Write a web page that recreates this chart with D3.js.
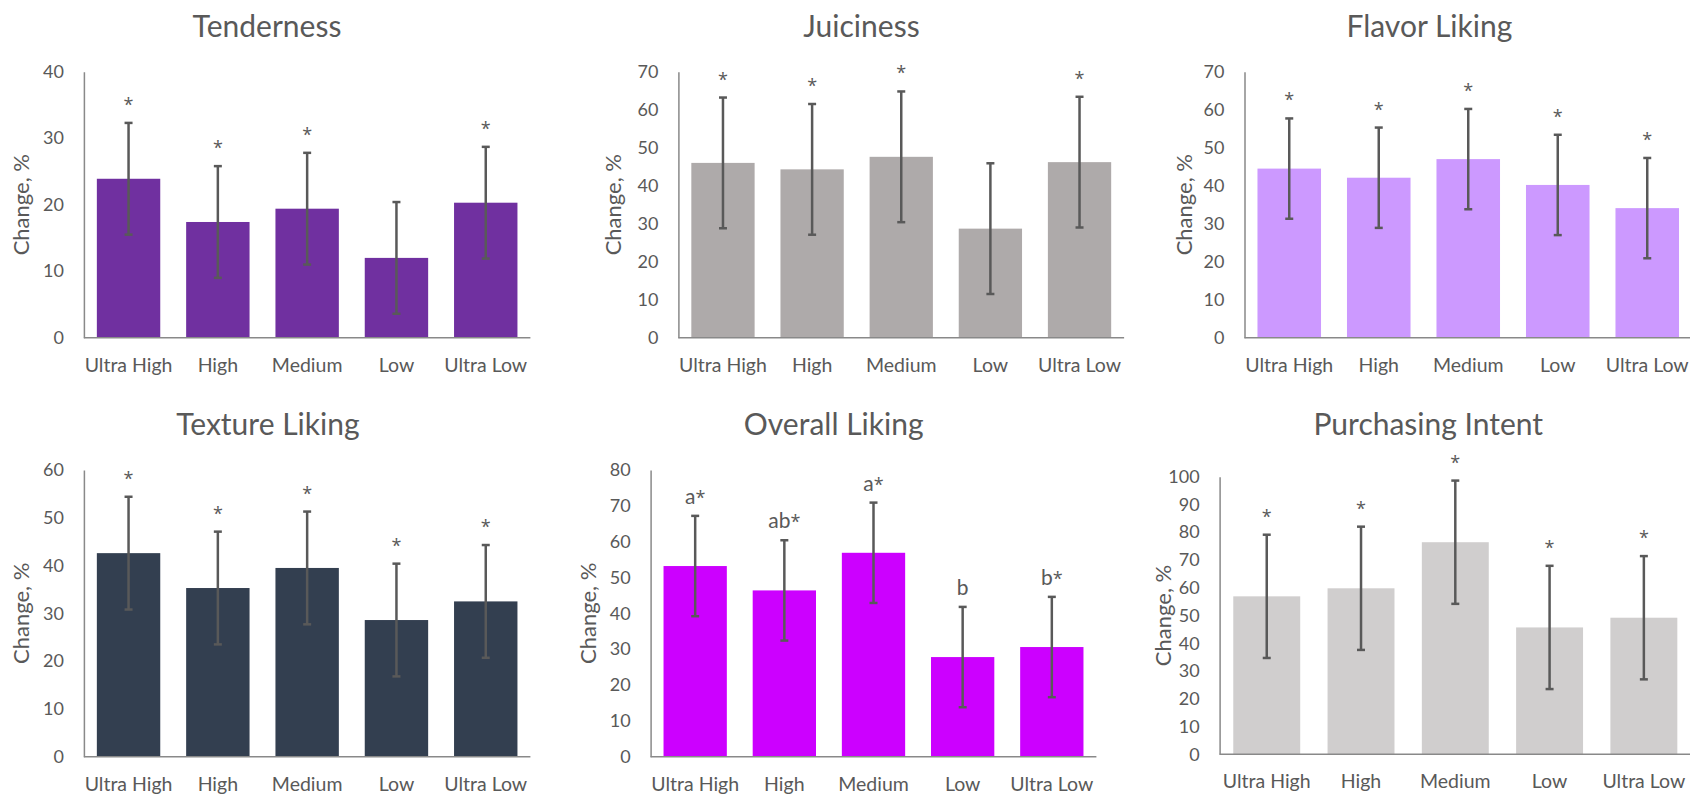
<!DOCTYPE html>
<html>
<head>
<meta charset="utf-8">
<script src="https://cdn.jsdelivr.net/npm/d3@7"></script>
<style>
  body { margin: 0; background: #fff; overflow: hidden; }
  svg { display: block; }
</style>
</head>
<body>
<div id="chart"></div>
<script>
// Categories shared by all six panels
const categories = ["Ultra High", "High", "Medium", "Low", "Ultra Low"];

// Tenderness
const tenderness = [23.9, 17.4, 19.4, 12.0, 20.3];
const tendernessErr = [8.4, 8.4, 8.4, 8.4, 8.4];
const tendernessSig = ["*", "*", "*", "", "*"];

// Juiciness
const juiciness = [46.0, 44.3, 47.6, 28.7, 46.2];
const juicinessErr = [17.2, 17.2, 17.2, 17.2, 17.2];
const juicinessSig = ["*", "*", "*", "", "*"];

// Flavor liking
const flavor = [44.5, 42.1, 47.0, 40.2, 34.1];
const flavorErr = [13.2, 13.2, 13.2, 13.2, 13.2];
const flavorSig = ["*", "*", "*", "*", "*"];

// Texture liking
const texture = [42.6, 35.3, 39.5, 28.6, 32.5];
const textureErr = [11.8, 11.8, 11.8, 11.8, 11.8];
const textureSig = ["*", "*", "*", "*", "*"];

// Overall liking
const overall = [53.2, 46.4, 56.9, 27.8, 30.6];
const overallErr = [14.0, 14.0, 14.0, 14.0, 14.0];
const overallSig = ["a*", "ab*", "a*", "b", "b*"];

// Purchasing intent
const purchase = [56.9, 59.8, 76.4, 45.7, 49.2];
const purchaseErr = [22.2, 22.2, 22.2, 22.2, 22.2];
const purchaseSig = ["*", "*", "*", "*", "*"];

// Colours and fonts
const textColor = "#595959";
const axisColor = "#898989";
const errColor = "#595959";
const font = "Lato, 'Open Sans', sans-serif";
const starFont = "'Open Sans', Lato, sans-serif";

// Panel layout (plot area in page pixels)
const panels = [
    { title: "Tenderness", values: tenderness, err: tendernessErr, sig: tendernessSig, color: "#7030A0",
      yMax: 40, left: 83.9, top: 71.7, right: 530.4, bottom: 337.7, axisRight: 530.4,
      titleX: 267, titleY: 36.7, labelOffset: 62.5 },
    { title: "Juiciness", values: juiciness, err: juicinessErr, sig: juicinessSig, color: "#AEAAAA",
      yMax: 70, left: 678.4, top: 71.7, right: 1124.1, bottom: 337.7, axisRight: 1124.1,
      titleX: 861.5, titleY: 36.7, labelOffset: 64.8 },
    { title: "Flavor Liking", values: flavor, err: flavorErr, sig: flavorSig, color: "#CC99FF",
      yMax: 70, left: 1244.5, top: 71.7, right: 1692, bottom: 337.7, axisRight: 1700,
      titleX: 1429.4, titleY: 36.7, labelOffset: 60 },
    { title: "Texture Liking", values: texture, err: textureErr, sig: textureSig, color: "#333F50",
      yMax: 60, left: 83.9, top: 470, right: 530.4, bottom: 756.7, axisRight: 530.4,
      titleX: 267.9, titleY: 435, labelOffset: 62.5 },
    { title: "Overall Liking", values: overall, err: overallErr, sig: overallSig, color: "#CC00FF",
      yMax: 80, left: 650.6, top: 470, right: 1096.4, bottom: 756.7, axisRight: 1096.4,
      titleX: 833.7, titleY: 435, labelOffset: 62 },
    { title: "Purchasing Intent", values: purchase, err: purchaseErr, sig: purchaseSig, color: "#D0CECE",
      yMax: 100, left: 1219.6, top: 476.7, right: 1691, bottom: 754.3, axisRight: 1700,
      titleX: 1428.3, titleY: 435, labelOffset: 56 }
];

const svg = d3.select("#chart").append("svg")
    .attr("width", 1690)
    .attr("height", 796);

panels.forEach(drawPanel);

function drawPanel(p) {
    const w = p.right - p.left;
    const h = p.bottom - p.top;
    const rows = categories.map((c, i) => ({ cat: c, v: p.values[i], e: p.err[i], s: p.sig[i] }));

    const x = d3.scaleBand().domain(categories).range([0, w])
        .paddingInner(0.29).paddingOuter(0.145);
    const y = d3.scaleLinear().domain([0, p.yMax]).range([h, 0]);

    // Title
    svg.append("text")
        .attr("x", p.titleX)
        .attr("y", p.titleY)
        .attr("text-anchor", "middle")
        .attr("font-family", font)
        .attr("font-size", 30)
        .attr("fill", textColor)
        .text(p.title);

    const g = svg.append("g").attr("transform", `translate(${p.left},${p.top})`);

    // Bars
    g.append("g").selectAll("rect")
        .data(rows)
        .join("rect")
        .attr("x", d => x(d.cat))
        .attr("y", d => y(d.v))
        .attr("width", x.bandwidth())
        .attr("height", d => y(0) - y(d.v))
        .attr("fill", p.color);

    // Error bars
    const eb = g.append("g")
        .attr("stroke", errColor)
        .attr("stroke-width", 2.5)
        .selectAll("g")
        .data(rows)
        .join("g")
        .attr("transform", d => `translate(${x(d.cat) + x.bandwidth() / 2},0)`);
    eb.append("line").attr("y1", d => y(d.v - d.e)).attr("y2", d => y(d.v + d.e));
    eb.append("line").attr("x1", -4).attr("x2", 4)
        .attr("y1", d => y(d.v + d.e)).attr("y2", d => y(d.v + d.e));
    eb.append("line").attr("x1", -4).attr("x2", 4)
        .attr("y1", d => y(d.v - d.e)).attr("y2", d => y(d.v - d.e));

    // Significance letters (letters in the main font, the star a little larger)
    const sig = g.append("g").selectAll("text")
        .data(rows.filter(d => d.s))
        .join("text")
        .attr("x", d => x(d.cat) + x.bandwidth() / 2)
        .attr("y", d => y(d.v + d.e) - 12)
        .attr("text-anchor", "middle")
        .attr("font-family", font)
        .attr("font-size", 21)
        .attr("fill", textColor);
    sig.append("tspan").text(d => d.s.replace("*", ""));
    sig.append("tspan")
        .attr("font-family", starFont)
        .attr("font-size", 18)
        .text(d => d.s.includes("*") ? "*" : "");

    // Y axis
    const yAxis = g.append("g")
        .call(d3.axisLeft(y).tickValues(d3.range(0, p.yMax + 1, 10)).tickSize(0).tickPadding(20));
    yAxis.select(".domain").attr("stroke", axisColor).attr("stroke-width", 1.5);
    yAxis.selectAll("text")
        .attr("font-family", font)
        .attr("font-size", 18)
        .attr("fill", textColor);

    // X axis
    const xAxis = g.append("g")
        .attr("transform", `translate(0,${h})`)
        .call(d3.axisBottom(x).tickSize(0).tickPadding(20));
    xAxis.select(".domain").remove();
    xAxis.append("line")
        .attr("x2", p.axisRight - p.left)
        .attr("stroke", axisColor)
        .attr("stroke-width", 1.5);
    xAxis.selectAll("text")
        .attr("font-family", font)
        .attr("font-size", 19.5)
        .attr("fill", textColor);

    // Y axis label
    g.append("text")
        .attr("transform", "rotate(-90)")
        .attr("x", -h / 2)
        .attr("y", -p.labelOffset)
        .attr("dy", "0.35em")
        .attr("text-anchor", "middle")
        .attr("font-family", font)
        .attr("font-size", 22)
        .attr("fill", textColor)
        .text("Change, %");
}
</script>
</body>
</html>
